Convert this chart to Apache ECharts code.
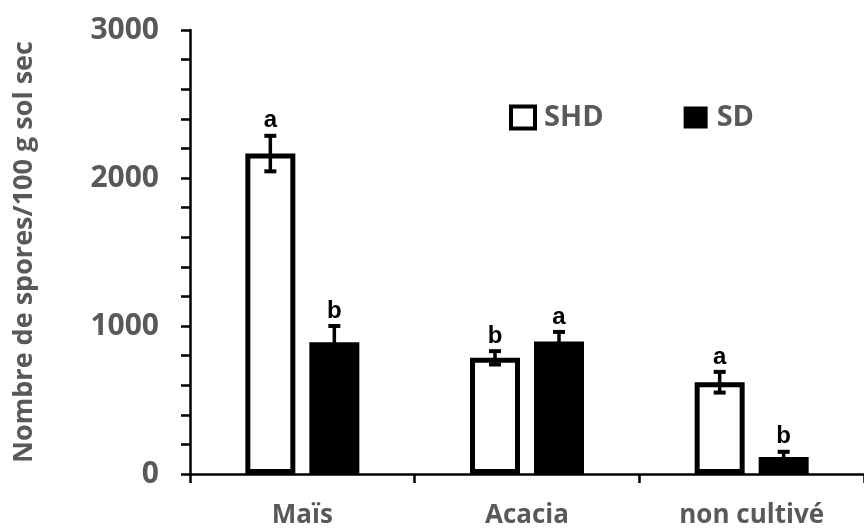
<!DOCTYPE html>
<html>
<head>
<meta charset="utf-8">
<script src="https://cdn.jsdelivr.net/npm/echarts@6/dist/echarts.min.js"></script>
<style>
  html, body { margin: 0; padding: 0; background: #fff; }
  #chart { width: 864px; height: 532px; }
</style>
</head>
<body>
<div id="chart"></div>
<script>
// data
const categories = ['Maïs', 'Acacia', 'non cultivé'];
const shdValues = [2165, 785, 620];
const shdErrors = [120, 45, 70];
const shdLetters = ['a', 'b', 'a'];
const sdValues = [890, 895, 115];
const sdErrors = [110, 65, 35];
const sdLetters = ['b', 'a', 'b'];

const grey = '#595959';
const barWidth = 50;
const pairOffset = 32; // half of bar + half of gap

function errorData(values, errors, letters) {
  return values.map((v, i) => [i, v - errors[i], v + errors[i], letters[i]]);
}

function errorRenderer(offset) {
  return function (params, api) {
    const idx = api.value(0);
    const lo = api.coord([idx, api.value(1)]);
    const hi = api.coord([idx, api.value(2)]);
    const x = lo[0] + offset;
    const cap = 6;
    const capStyle = { stroke: '#000', lineWidth: 4 };
    return {
      type: 'group',
      children: [
        { type: 'line', shape: { x1: x, y1: lo[1], x2: x, y2: hi[1] }, style: { stroke: '#000', lineWidth: 3.5 } },
        { type: 'line', shape: { x1: x - cap, y1: lo[1], x2: x + cap, y2: lo[1] }, style: capStyle },
        { type: 'line', shape: { x1: x - cap, y1: hi[1], x2: x + cap, y2: hi[1] }, style: capStyle },
        {
          type: 'text',
          x: x,
          y: hi[1] - 15,
          style: {
            text: api.value(3),
            fill: '#000',
            font: 'bold 24px "Liberation Sans", Arial, sans-serif',
            align: 'center',
            verticalAlign: 'middle'
          }
        }
      ]
    };
  };
}

const chart = echarts.init(document.getElementById('chart'));

const option = {
  animation: false,
  backgroundColor: '#fff',
  textStyle: { fontFamily: '"Open Sans", sans-serif' },
  grid: {
    left: 190,
    top: 30,
    width: 680,
    bottom: 58
  },
  legend: {
    left: 504,
    top: 98,
    itemWidth: 24,
    itemHeight: 22,
    itemGap: 80,
    icon: 'rect',
    data: [
      { name: 'SHD', itemStyle: { color: '#fff', borderColor: '#000', borderWidth: 4 } },
      { name: 'SD' }
    ],
    textStyle: {
      fontSize: 29,
      fontWeight: 'bold',
      color: grey,
      fontFamily: '"Open Sans", sans-serif',
      padding: [0, 0, 0, 4]
    }
  },
  xAxis: {
    type: 'category',
    data: categories,
    axisLine: { lineStyle: { color: '#000', width: 2.5 } },
    axisTick: { show: true, length: 9, lineStyle: { color: '#000', width: 2.5 } },
    axisLabel: {
      margin: 29,
      fontSize: 26,
      fontWeight: 'bold',
      color: grey
    }
  },
  yAxis: {
    type: 'value',
    min: 0,
    max: 3000,
    interval: 1000,
    name: 'Nombre de spores/100 g sol sec',
    nameLocation: 'middle',
    nameGap: 152,
    nameTextStyle: {
      fontSize: 27,
      fontWeight: 'bold',
      color: grey
    },
    splitLine: { show: false },
    axisLine: { show: true, lineStyle: { color: '#000', width: 2.5 } },
    axisTick: { show: true, length: 9, lineStyle: { color: '#000', width: 2.5 } },
    minorTick: { show: true, splitNumber: 5, length: 9, lineStyle: { color: '#000', width: 2.5 } },
    axisLabel: {
      margin: 31,
      fontSize: 30,
      fontWeight: 'bold',
      color: grey,
      formatter: (v) => String(v)
    }
  },
  series: [
    {
      name: 'SHD',
      type: 'bar',
      data: shdValues,
      barWidth: barWidth,
      barGap: '28%',
      itemStyle: { color: '#fff', borderColor: '#000', borderWidth: 5 }
    },
    {
      name: 'SD',
      type: 'bar',
      data: sdValues,
      barWidth: barWidth,
      itemStyle: { color: '#000', borderColor: '#000', borderWidth: 0 }
    },
    {
      type: 'custom',
      renderItem: errorRenderer(-pairOffset),
      data: errorData(shdValues, shdErrors, shdLetters),
      encode: { x: 0, y: [1, 2] },
      z: 10
    },
    {
      type: 'custom',
      renderItem: errorRenderer(pairOffset),
      data: errorData(sdValues, sdErrors, sdLetters),
      encode: { x: 0, y: [1, 2] },
      z: 10
    }
  ]
};

chart.setOption(option);

window.addEventListener('resize', () => chart.resize());
</script>
</body>
</html>
